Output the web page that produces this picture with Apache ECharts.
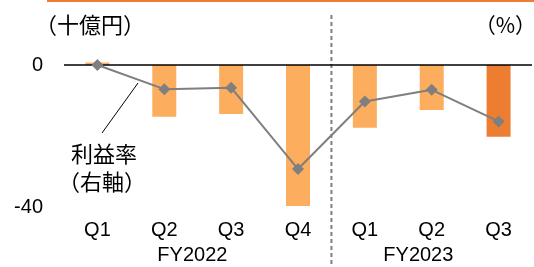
<!DOCTYPE html>
<html>
<head>
<meta charset="utf-8">
<script src="https://cdn.jsdelivr.net/npm/echarts@6/dist/echarts.min.js"></script>
<style>
  html, body { margin: 0; padding: 0; background: #fff; }
  #main { width: 534px; height: 267px; }
</style>
</head>
<body>
<div id="main"></div>
<script>
// データ
const quarters = ['Q1', 'Q2', 'Q3', 'Q4', 'Q1', 'Q2', 'Q3']
const fiscalYears = ['FY2022', 'FY2023']
const profit = [0.7, -14.6, -13.8, -39.7, -17.7, -12.7, -20.2] // 十億円
const margin = [0, -6.8, -6.4, -29.3, -10.3, -7.0, -15.9] // %
const leftMin = -40
const leftMax = 0

const LIGHT = '#FCAD5E'
const DARK = '#ED7D31'
const GREY = '#7F7F7F'
const latin = 'Liberation Sans, Arial, sans-serif'
const cjk = '"Noto Sans CJK JP", sans-serif'

const chart = echarts.init(document.getElementById('main'))

chart.setOption({
  animation: false,
  grid: { left: 64, right: 2, top: 65, bottom: 60 },
  xAxis: {
    type: 'category',
    data: quarters,
    axisLine: { show: false },
    axisTick: { show: false },
    axisLabel: { color: '#000', fontSize: 20, fontFamily: latin, margin: 13 }
  },
  yAxis: [
    {
      type: 'value',
      min: leftMin,
      max: leftMax,
      interval: 40,
      axisLine: { show: false },
      axisTick: { show: false },
      splitLine: { show: false },
      axisLabel: { color: '#000', fontSize: 20, fontFamily: latin, margin: 21 }
    },
    {
      type: 'value',
      min: -40,
      max: 0,
      show: false
    }
  ],
  series: [
    {
      type: 'bar',
      clip: false,
      barWidth: 24,
      data: profit.map((v, i) => ({
        value: v,
        itemStyle: { color: i === profit.length - 1 ? DARK : LIGHT }
      })),
      markLine: {
        silent: true,
        symbol: 'none',
        label: { show: false },
        lineStyle: { color: '#000', width: 1.5, type: 'solid' },
        data: [{ yAxis: 0 }]
      },
      z: 2
    },
    {
      type: 'line',
      yAxisIndex: 1,
      data: margin,
      symbol: 'diamond',
      symbolSize: 12,
      lineStyle: { color: GREY, width: 2 },
      itemStyle: { color: GREY },
      z: 5
    }
  ]
})

// 年度ラベル・区切り線・注記
const x0 = chart.convertToPixel({ xAxisIndex: 0 }, 0)
const step = chart.convertToPixel({ xAxisIndex: 0 }, 1) - x0
const sepX = x0 + step * 3.5

chart.setOption({
  graphic: [
    { type: 'line', shape: { x1: 47, y1: 1, x2: 534, y2: 1 }, style: { stroke: DARK, lineWidth: 2 } },
    { type: 'line', shape: { x1: sepX, y1: 15, x2: sepX, y2: 267 },
      style: { stroke: GREY, lineWidth: 2, lineDash: [4, 3] } },
    { type: 'text', x: 35, y: 25, style: { text: '（十億円）', font: '22px ' + cjk, fill: '#000', verticalAlign: 'middle' } },
    { type: 'text', x: 536, y: 25, style: { text: '（%）', font: '21px ' + cjk, fill: '#000', align: 'right', verticalAlign: 'middle' } },
    { type: 'text', x: x0 + step * 1.42, y: 255,
      style: { text: fiscalYears[0], font: '20px ' + latin, fill: '#000', align: 'center', verticalAlign: 'middle' } },
    { type: 'text', x: x0 + step * 4.8, y: 255,
      style: { text: fiscalYears[1], font: '20px ' + latin, fill: '#000', align: 'center', verticalAlign: 'middle' } },
    { type: 'line', shape: { x1: 102, y1: 133, x2: 138, y2: 83 }, style: { stroke: '#000', lineWidth: 1 } },
    { type: 'text', x: 104, y: 154, style: { text: '利益率', font: '22px ' + cjk, fill: '#000', align: 'center', verticalAlign: 'middle' } },
    { type: 'text', x: 102, y: 182, style: { text: '（右軸）', font: '22px ' + cjk, fill: '#000', align: 'center', verticalAlign: 'middle' } }
  ]
})
</script>
</body>
</html>
